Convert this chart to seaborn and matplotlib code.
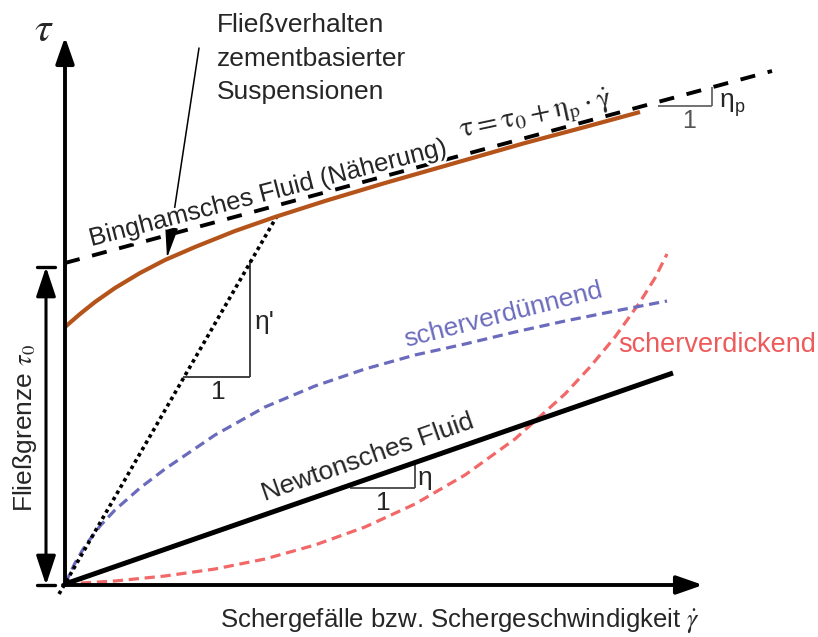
import matplotlib
matplotlib.use("Agg")
import matplotlib.pyplot as plt
import matplotlib.patheffects as pe
import pandas as pd
import seaborn as sns

# Shear rate (gamma dot) and shear stress (tau) in arbitrary units
newton_gamma = [0.0, 6.08]
newton_tau = [0.0, 2.11]

thinning_gamma = [0.0, 0.1, 0.2, 0.35, 0.5, 0.75, 1.0, 1.5, 2.0, 2.5, 3.0,
                  3.5, 4.0, 4.5, 5.0, 5.5, 6.02]
thinning_tau = [0.0, 0.21, 0.38, 0.58, 0.74, 0.96, 1.15, 1.49, 1.77, 1.98,
                2.15, 2.29, 2.40, 2.52, 2.63, 2.73, 2.83]

thickening_gamma = [0.0, 0.5, 1.0, 1.5, 2.0, 2.5, 3.0, 3.5, 4.0, 4.5, 5.0,
                    5.25, 5.5, 5.75, 5.9, 6.02]
thickening_tau = [0.0, 0.03, 0.08, 0.15, 0.25, 0.39, 0.57, 0.80, 1.09, 1.45,
                  1.90, 2.17, 2.47, 2.82, 3.06, 3.30]

cement_gamma = [0.0, 0.15, 0.3, 0.5, 0.75, 1.0, 1.3, 1.7, 2.1, 2.6, 3.2,
                3.9, 4.6, 5.2, 5.75]
cement_tau = [2.57, 2.70, 2.82, 2.96, 3.11, 3.24, 3.37, 3.53, 3.67, 3.83,
              4.01, 4.21, 4.41, 4.57, 4.72]

bingham_gamma = [0.0, 7.07]
bingham_tau = [3.21, 5.13]

secant_gamma = [-0.06, 2.12]
secant_tau = [-0.10, 3.68]

# slope triangles (run "1", rise "eta")
eta_sec_run = ([1.18, 1.85], [2.07, 2.07])
eta_sec_rise = ([1.85, 1.85], [2.07, 3.24])
eta_newton_run = ([2.85, 3.50], [0.96, 0.96])
eta_newton_rise = ([3.50, 3.50], [0.96, 1.20])
eta_p_run = ([5.93, 6.47], [4.78, 4.78])
eta_p_rise = ([6.47, 6.47], [4.78, 4.97])

yield_stress = 3.17

sns.set_style("white")
plt.rcParams["font.family"] = ["Liberation Sans", "DejaVu Sans"]
plt.rcParams["mathtext.fontset"] = "stix"

BLUE = "#6b6bbd"
RED = "#f26868"
RED_TXT = "#ee5a5a"
ORANGE = "#b5541a"

fig = plt.figure(figsize=(8.18, 6.37), dpi=100)
ax = fig.add_axes([0, 0, 1, 1])
ax.set_xlim(-0.65, 7.53)
ax.set_ylim(-0.53, 5.84)
ax.axis("off")


def curve(g, t, **kw):
    df = pd.DataFrame({"gamma": g, "tau": t})
    sns.lineplot(data=df, x="gamma", y="tau", ax=ax, estimator=None,
                 sort=False, legend=False, **kw)


curve(thickening_gamma, thickening_tau, color=RED, lw=2.3,
      linestyle=(0, (3.2, 1.8)), zorder=3)
curve(thinning_gamma, thinning_tau, color=BLUE, lw=2.3,
      linestyle=(0, (3.2, 1.8)), zorder=3)
curve(secant_gamma, secant_tau, color="black", lw=2.6,
      linestyle=(0, (1, 1.0)), zorder=3)
curve(newton_gamma, newton_tau, color="black", lw=3.6,
      solid_capstyle="butt", zorder=4)
curve(bingham_gamma, bingham_tau, color="black", lw=2.8,
      linestyle=(0, (3.9, 3.3)), zorder=3)
curve(cement_gamma, cement_tau, color=ORANGE, lw=3.0,
      solid_capstyle="butt", zorder=4)

# slope triangles
for (gx, ty), col in [(eta_sec_run, "#333333"), (eta_sec_rise, "#333333"),
                      (eta_newton_run, "#444444"), (eta_newton_rise, "#444444"),
                      (eta_p_run, "#666666"), (eta_p_rise, "#666666")]:
    ax.plot(gx, ty, color=col, lw=1.3, zorder=2, solid_capstyle="butt")

# coordinate axes with arrow heads
axis_kw = dict(arrowstyle="-|>,head_length=0.8,head_width=0.28", lw=2.8,
               color="black", mutation_scale=20, shrinkA=0, shrinkB=0)
ax.annotate("", xy=(0, 5.47), xytext=(0, -0.01), arrowprops=axis_kw, zorder=5)
ax.annotate("", xy=(6.38, -0.01), xytext=(-0.02, -0.01), arrowprops=axis_kw, zorder=5)

# yield stress span
ax.annotate("", xy=(-0.19, yield_stress), xytext=(-0.19, -0.01),
            arrowprops=dict(arrowstyle="<|-|>,head_length=0.9,head_width=0.3",
                            lw=2.2, color="black", mutation_scale=20,
                            shrinkA=0, shrinkB=0), zorder=5)
ax.plot([-0.28, -0.10], [yield_stress, yield_stress], color="black", lw=2.4)
ax.plot([-0.28, -0.10], [-0.01, -0.01], color="black", lw=2.4)

# pointer to the cement suspension curve
ax.annotate("", xy=(1.02, 3.26), xytext=(1.34, 5.36),
            arrowprops=dict(arrowstyle="-|>,head_length=1.9,head_width=0.4",
                            lw=1.1, color="black", mutation_scale=10,
                            shrinkA=0, shrinkB=0), zorder=2)

FS = 19
ax.text(-0.21, 5.54, r"$\tau$", fontsize=30, ha="center", va="center")
for txt, y in [("Fließverhalten", 5.52), ("zementbasierter", 5.18),
               ("Suspensionen", 4.85)]:
    ax.text(1.52, y, txt, fontsize=FS, ha="left", va="baseline")

ax.text(2.05, 3.84, "Binghamsches Fluid (Näherung)", fontsize=18.5,
        rotation=14.5, rotation_mode="anchor", ha="center", va="baseline",
        zorder=6, path_effects=[pe.withStroke(linewidth=4, foreground="white")])
ax.text(4.72, 4.62,
        r"$\mathrm{\tau} = \mathrm{\tau}_0 + \mathrm{\eta}_\mathrm{p} \cdot \dot{\mathrm{\gamma}}$",
        fontsize=21, rotation=12, rotation_mode="anchor", ha="center",
        va="baseline", zorder=6)

ax.text(6.55, 4.77, "η", fontsize=FS, ha="left", va="baseline")
ax.text(6.70, 4.72, "p", fontsize=13, ha="left", va="baseline")
ax.text(6.24, 4.63, "1", fontsize=18, ha="center", va="center", color="#555555")

ax.text(2.00, 2.62, "η'", fontsize=FS, ha="center", va="center")
ax.text(1.53, 1.92, "1", fontsize=FS, ha="center", va="center")
ax.text(3.60, 1.06, "η", fontsize=FS, ha="center", va="center")
ax.text(3.18, 0.81, "1", fontsize=FS, ha="center", va="center")

ax.text(3.05, 1.20, "Newtonsches Fluid", fontsize=FS, rotation=19.3,
        rotation_mode="anchor", ha="center", va="baseline")
ax.text(4.40, 2.62, "scherverdünnend", fontsize=FS, rotation=14.3,
        rotation_mode="anchor", ha="center", va="baseline", color=BLUE)
ax.text(5.53, 2.32, "scherverdickend", fontsize=19.5, ha="left",
        va="baseline", color=RED_TXT)

ax.text(-0.40, 1.56, r"Fließgrenze $\tau_0$", fontsize=FS, rotation=90,
        ha="center", va="center")
ax.text(1.55, -0.43, r"Schergefälle bzw. Schergeschwindigkeit $\dot{\gamma}$",
        fontsize=18.5, ha="left", va="baseline")

fig.savefig("out.png", dpi=100)
